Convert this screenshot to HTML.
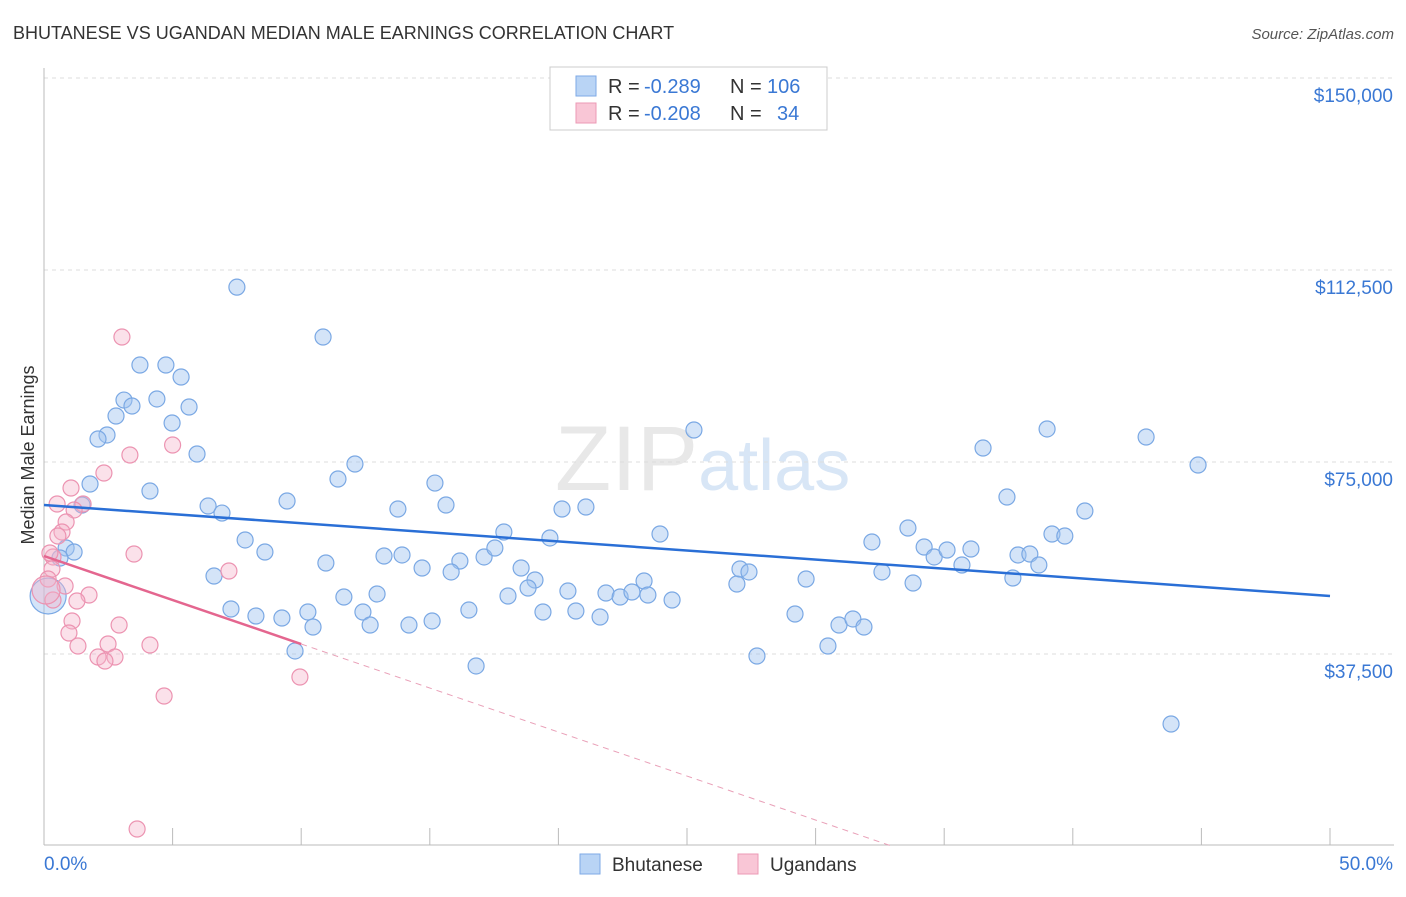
<!DOCTYPE html>
<html><head><meta charset="utf-8">
<style>
body{margin:0;background:#fff;font-family:"Liberation Sans",sans-serif;}
svg text{font-family:"Liberation Sans",sans-serif;}
</style></head>
<body>
<svg id="chart" width="1406" height="892" xmlns="http://www.w3.org/2000/svg">
<text x="13" y="39" font-size="18" fill="#333">BHUTANESE VS UGANDAN MEDIAN MALE EARNINGS CORRELATION CHART</text>
<text x="1394" y="39" font-size="15" fill="#555" text-anchor="end" font-style="italic">Source: ZipAtlas.com</text>
<text x="555" y="490" font-size="92" fill="#e8e8e8" font-family="Liberation Serif">ZIP<tspan fill="#d8e6f6" font-family="Liberation Sans" font-size="72">atlas</tspan></text>
<text transform="translate(34,455) rotate(-90)" font-size="18" fill="#333" text-anchor="middle">Median Male Earnings</text>
<g id="grid"></g>
<g id="axes"></g>
<g id="marks"></g>
<g>
<rect x="550" y="67" width="277" height="63" fill="#fff" stroke="#ccc"/>
<rect x="576" y="76" width="20" height="20" fill="#b9d4f5" stroke="#7eaae6"/>
<rect x="576" y="103" width="20" height="20" fill="#f9c6d6" stroke="#ec9ab5"/>
<text x="608" y="93" font-size="20" fill="#333">R =</text>
<text x="644" y="93" font-size="20" fill="#3a78d4">-0.289</text>
<text x="730" y="93" font-size="20" fill="#333">N =</text>
<text x="767" y="93" font-size="20" fill="#3a78d4">106</text>
<text x="608" y="120" font-size="20" fill="#333">R =</text>
<text x="644" y="120" font-size="20" fill="#3a78d4">-0.208</text>
<text x="730" y="120" font-size="20" fill="#333">N =</text>
<text x="777" y="120" font-size="20" fill="#3a78d4">34</text>
</g>
<g>
<rect x="580" y="854" width="20" height="20" fill="#b9d4f5" stroke="#7eaae6"/>
<text x="612" y="871" font-size="19" fill="#333">Bhutanese</text>
<rect x="738" y="854" width="20" height="20" fill="#f9c6d6" stroke="#ec9ab5"/>
<text x="770" y="871" font-size="19" fill="#333">Ugandans</text>
</g>
</svg>
<script>
const yTicks=[37500,75000,112500,150000];
const yTickLabels=["$37,500","$75,000","$112,500","$150,000"];
const xLabels=["0.0%","50.0%"];
const blueX=[7.5,10.85,3.73,4.74,5.33,3.11,4.39,3.42,5.64,2.8,4.98,2.45,2.1,5.95,12.09,11.43,15.2,1.79,4.12,1.48,6.38,6.92,9.45,13.76,15.63,20.14,21.07,25.27,36.51,39.0,42.85,44.87,37.44,40.47,33.59,23.95,17.88,19.67,7.82,0.86,1.17,0.62,8.59,10.96,13.22,13.92,16.17,17.11,17.53,14.7,15.83,18.55,19.09,6.61,18.82,20.37,18.04,11.66,12.95,21.85,23.33,22.4,22.86,23.48,24.42,26.94,27.06,27.41,29.63,32.19,32.58,33.79,34.22,34.61,35.11,35.69,36.04,37.67,37.87,38.33,38.68,39.19,39.69,7.27,8.24,9.25,10.26,10.46,12.4,12.68,14.19,15.09,16.52,19.4,20.68,21.62,29.2,30.91,31.45,31.88,30.48,27.72,16.8,9.76,43.82,0.16];
const blueY=[109150,99410,93940,93940,91600,87100,87310,85940,85740,83980,82620,80280,79490,76560,74610,71680,70890,70700,69330,66600,66400,65030,67380,65820,66600,65820,66210,81250,77730,81450,79880,74410,68160,65430,62110,60940,61330,60160,59770,58200,57420,56250,57420,55270,56640,56840,55660,56450,58200,54300,53520,54300,51950,52730,50390,49800,48830,48630,49220,49410,51760,48630,49610,49020,48050,51170,54100,53520,52150,59380,53520,51370,58400,56450,57810,54880,58010,52340,56840,57030,54880,60940,60550,46290,44920,44530,45700,42770,45700,43160,43160,43950,46090,45700,45900,44730,45310,43160,44340,42770,39060,37110,35160,38090,23830,48830];
const pinkX=[3.03,5.0,3.34,2.33,1.05,0.51,1.52,1.17,0.86,0.7,0.54,0.35,0.23,3.5,7.19,0.31,0.82,0.16,1.75,1.28,1.09,2.92,0.97,1.32,4.12,2.49,2.1,2.76,2.37,4.67,9.95,3.62,0.35,0.08];
const pinkY=[99410,78320,76370,72850,69920,66800,66800,65630,63280,61330,60550,56450,57230,57030,53710,54100,50780,52150,49020,47850,43950,43160,41600,39060,39260,39450,36910,36910,36130,29300,33010,3320,48050,50000];
const blueFit=[66600,48830];
const pinkFit=[56640,39450];
const pinkFitRange=[0,10];
const X0=44,X1=1330,Y0=846,PXY=192/37500;
function sx(v){return X0+(X1-X0)*v/50;}
function sy(v){return Y0-v*PXY;}
const NS="http://www.w3.org/2000/svg";
function mk(t,a,p){const e=document.createElementNS(NS,t);for(const k in a)e.setAttribute(k,a[k]);p.appendChild(e);return e;}
const grid=document.getElementById('grid'),axes=document.getElementById('axes'),marks=document.getElementById('marks');
yTicks.forEach((v,i)=>{
 const l=mk('line',{x1:44,x2:1394,y1:sy(v),y2:sy(v),stroke:'#ddd','stroke-dasharray':'4,4'},grid);
 
 
 const t=mk('text',{x:1393,y:sy(v)+24,'font-size':19,fill:'#3a78d4','text-anchor':'end'},axes);
 t.textContent=yTickLabels[i];
 
 
});
const ax=mk('line',{x1:44,x2:1394,y1:845,y2:845,stroke:'#bbb'},axes);


const ay=mk('line',{x1:44,x2:44,y1:68,y2:845,stroke:'#bbb'},axes);


for(let i=0;i<=10;i++){const tk=mk('line',{x1:sx(i*5),x2:sx(i*5),y1:828,y2:845,stroke:'#bbb'},axes);
 
 }
[[0,'start',xLabels[0]],[50,'end',xLabels[1]]].forEach(([v,a,s],i)=>{
 const t=mk('text',{x:i?1393:44,y:870,'font-size':19,fill:'#3a78d4','text-anchor':a},axes);t.textContent=s;
 
 
});
blueX.forEach((x,i)=>{
 const c=mk('circle',{cx:sx(x),cy:sy(blueY[i]),r:i==blueX.length-1?18:8,fill:'rgba(160,196,240,0.45)',stroke:'#7aa8e4','stroke-width':1.2},marks);
 
 
});
pinkX.forEach((x,i)=>{
 const c=mk('circle',{cx:sx(x),cy:sy(pinkY[i]),r:i==pinkX.length-1?14:8,fill:'rgba(246,180,202,0.4)',stroke:'#ec93b1','stroke-width':1.2},marks);
 
 
});
const bl=mk('line',{x1:sx(0),y1:sy(blueFit[0]),x2:sx(50),y2:sy(blueFit[1]),stroke:'#2a6fd6','stroke-width':2.5},marks);


const slope=(pinkFit[1]-pinkFit[0])/(pinkFitRange[1]-pinkFitRange[0]);
const xEnd=-pinkFit[0]/slope;
const pl=mk('line',{x1:sx(0),y1:sy(pinkFit[0]),x2:sx(pinkFitRange[1]),y2:sy(pinkFit[1]),stroke:'#e4668f','stroke-width':2.5},marks);


const pd=mk('line',{x1:sx(pinkFitRange[1]),y1:sy(pinkFit[1]),x2:sx(xEnd),y2:sy(0),stroke:'#e9a0b8','stroke-width':1,'stroke-dasharray':'6,5'},marks);


</script>
</body></html>
